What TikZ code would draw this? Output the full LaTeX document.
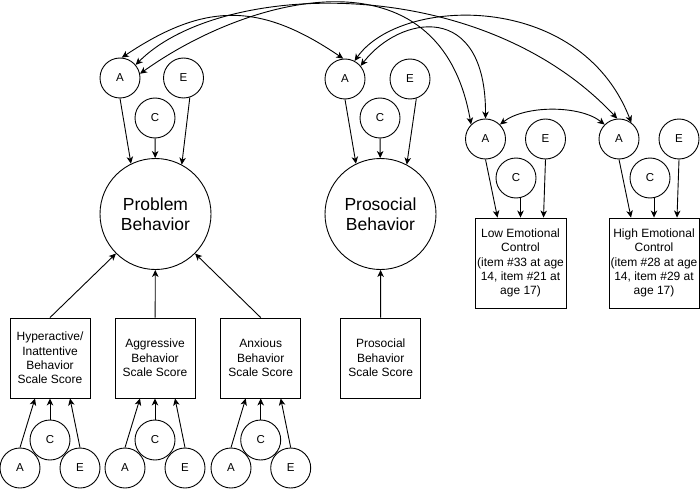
\documentclass[tikz,border=0pt]{standalone}
\usepackage{fontspec}
\setmainfont{Liberation Sans}
\usetikzlibrary{arrows.meta}

\begin{document}
\begin{tikzpicture}[x=1pt,y=-1pt,line width=0.9pt,
    >={Stealth[length=7pt,width=6.5pt,inset=2pt]},
    ace/.style={circle,draw,minimum size=40pt,inner sep=0pt,font=\fontsize{11.5}{13}\selectfont},
    factor/.style={circle,draw,minimum size=111pt,inner sep=0pt,align=center,font=\fontsize{17.5}{20}\selectfont},
    score/.style={rectangle,draw,minimum width=80pt,minimum height=80pt,inner sep=1pt,align=center,font=\fontsize{12}{14.3}\selectfont}]
    \useasboundingbox (0,0) rectangle (700,489);

    \node[ace] (LA) at (120,78) {A};
    \node[ace] (LE) at (183.5,78) {E};
    \node[ace] (LC) at (155,118) {C};
    \node[factor] (PB) at (155.5,214) {Problem\\Behavior};

    \node[ace] (PA) at (345,79) {A};
    \node[ace] (PE) at (410,79) {E};
    \node[ace] (PC) at (380,118) {C};
    \node[factor] (PSB) at (380.5,214) {Prosocial\\Behavior};

    \node[ace] (RA1) at (485.5,139) {A};
    \node[ace] (RE1) at (545.5,139) {E};
    \node[ace] (RC1) at (516,178) {C};
    \node[score,minimum width=91pt,minimum height=90pt] (LEC) at (520.5,263) {Low Emotional\\Control\\(item \#33 at age\\14, item \#21 at\\age 17)};

    \node[ace] (RA2) at (619,139) {A};
    \node[ace] (RE2) at (679,139) {E};
    \node[ace] (RC2) at (650,178) {C};
    \node[score,minimum width=90pt,minimum height=90pt] (HEC) at (654,263) {High Emotional\\Control\\(item \#28 at age\\14, item \#29 at\\age 17)};

    \node[score] (HB) at (50,358) {Hyperactive/\\Inattentive\\Behavior\\Scale Score};
    \node[score] (AB) at (155,358) {Aggressive\\Behavior\\Scale Score};
    \node[score] (XB) at (260.7,358) {Anxious\\Behavior\\Scale Score};
    \node[score] (PS) at (380.7,358) {Prosocial\\Behavior\\Scale Score};

    \node[ace] (HA) at (20,468) {A};
    \node[ace] (HC) at (50,440) {C};
    \node[ace] (HE) at (80,468) {E};
    \node[ace] (AA) at (125,468) {A};
    \node[ace] (AC) at (155,440) {C};
    \node[ace] (AE) at (185,468) {E};
    \node[ace] (XA) at (231,468) {A};
    \node[ace] (XC) at (260.7,440) {C};
    \node[ace] (XE) at (290.7,468) {E};

    \draw[->] (LA.south) -- (PB.116);
    \draw[->] (LC) -- (PB);
    \draw[->] (LE.288) -- (PB.62);
    \draw[->] (PA.south) -- (PSB.116);
    \draw[->] (PC) -- (PSB);
    \draw[->] (PE.288) -- (PSB.62);

    \draw[->] (RA1.south) -- ([xshift=-23pt]LEC.north);
    \draw[->] (RC1.south -| LEC.north) -- (LEC.north);
    \draw[->] (RE1.south) -- ([xshift=23pt]LEC.north);
    \draw[->] (RA2.south) -- ([xshift=-23pt]HEC.north);
    \draw[->] (RC2.south -| HEC.north) -- (HEC.north);
    \draw[->] (RE2.south) -- ([xshift=23pt]HEC.north);

    \draw[->] (HB.north) -- (PB.225);
    \draw[->] (AB) -- (PB);
    \draw[->] (XB.north) -- (PB.315);
    \draw[->] (PS) -- (PSB);

    \draw[->] (HA.north) -- ([xshift=-15pt]HB.south);
    \draw[->] (HC) -- (HB);
    \draw[->] (HE.north) -- ([xshift=20pt]HB.south);
    \draw[->] (AA.north) -- ([xshift=-15pt]AB.south);
    \draw[->] (AC) -- (AB);
    \draw[->] (AE.north) -- ([xshift=20pt]AB.south);
    \draw[->] (XA.north) -- ([xshift=-15pt]XB.south);
    \draw[->] (XC) -- (XB);
    \draw[->] (XE.north) -- ([xshift=20pt]XB.south);

    \draw[<->] (LA.85) .. controls (205,2) and (260,2) .. (PA.95);
    \draw[<->] (LA.40) .. controls (220,-20) and (480,-28) .. (RA2.95);
    \draw[<->] (LA.12) .. controls (250,-5) and (440,-54) .. (RA1.135);
    \draw[<->] (PA.62) .. controls (400,-4) and (580,-10) .. (RA2.53);
    \draw[<->] (PA.40) .. controls (400,15) and (486,0) .. (RA1.north);
    \draw[<->] (RA1.45) .. controls (525,105) and (580,105) .. (RA2.135);
\end{tikzpicture}
\end{document}
